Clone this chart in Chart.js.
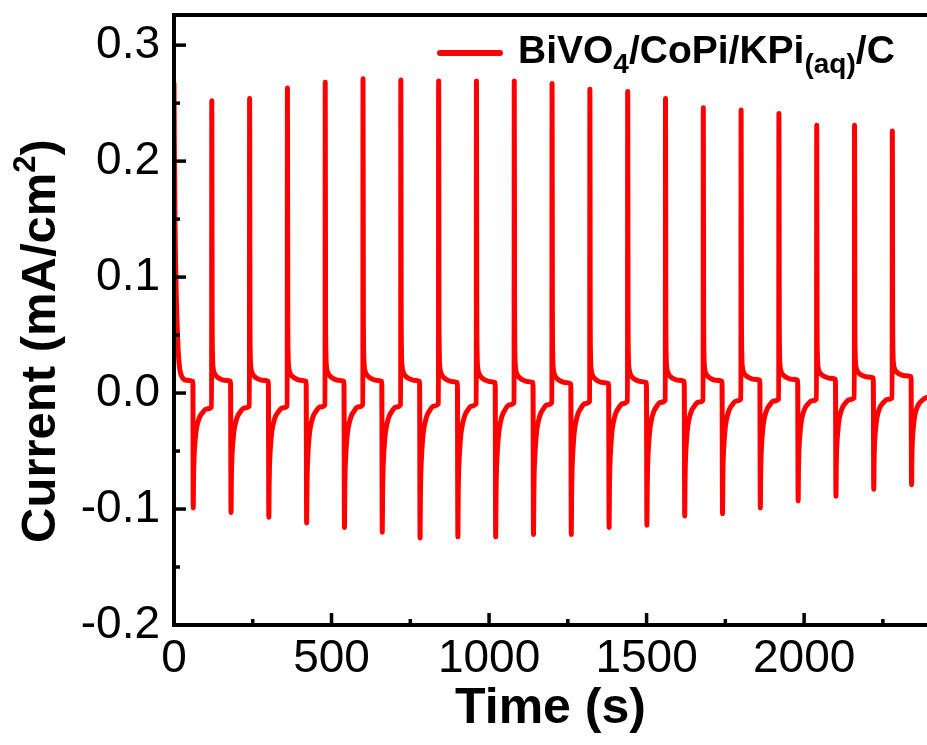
<!DOCTYPE html>
<html>
<head>
<meta charset="utf-8">
<script src="https://cdn.jsdelivr.net/npm/chart.js@4.4.1/dist/chart.umd.min.js"></script>
<style>
  html, body { margin: 0; padding: 0; background: #fff; overflow: hidden; }
  #wrap { position: relative; width: 927px; height: 745px; overflow: hidden; }
  #legend {
    position: absolute; left: 437px; top: 30px;
    font-family: 'Liberation Sans', Arial, sans-serif; font-weight: bold;
    font-size: 39px; line-height: 39px; white-space: nowrap; color: #000;
  }
  #legend .swatch { position: absolute; left: 0; top: 20px; width: 66px; height: 6px; border-radius: 3px; background: #ff0000; }
  #legend .label { position: absolute; left: 81px; top: 0; }
  #legend sub { font-size: 28px; vertical-align: -10px; line-height: 0; }
</style>
</head>
<body>
<div id="wrap">
  <canvas id="chart"></canvas>
  <div id="legend"><span class="swatch"></span><span class="label">BiVO<sub>4</sub>/CoPi/KPi<sub>(aq)</sub>/C</span></div>
</div>
<script>
// light switched on / off (s)
const onTimes  = [0, 120, 240, 360, 480, 600, 720, 840, 960, 1080, 1200, 1320, 1440, 1560, 1680, 1800, 1920, 2040, 2160, 2280];
const offTimes = [61, 181, 301, 421, 541, 661, 781, 901, 1021, 1141, 1261, 1381, 1501, 1621, 1741, 1861, 1981, 2101, 2221, 2341];

// current (mA/cm2)
const peakOn     = [0.267, 0.252, 0.254, 0.263, 0.268, 0.271, 0.270, 0.269, 0.269, 0.269, 0.267, 0.262, 0.260, 0.254, 0.246, 0.244, 0.241, 0.231, 0.231, 0.226];
const plateauOn  = [0.010, 0.010, 0.010, 0.010, 0.010, 0.010, 0.010, 0.009, 0.009, 0.009, 0.008, 0.008, 0.009, 0.010, 0.010, 0.011, 0.011, 0.012, 0.013, 0.014];
const troughOff  = [-0.099, -0.103, -0.107, -0.112, -0.116, -0.120, -0.125, -0.124, -0.124, -0.122, -0.122, -0.116, -0.114, -0.106, -0.104, -0.099, -0.093, -0.089, -0.083, -0.079];
const plateauOff = [-0.012, -0.011, -0.011, -0.010, -0.010, -0.010, -0.009, -0.009, -0.008, -0.008, -0.007, -0.007, -0.006, -0.006, -0.005, -0.005, -0.005, -0.004, -0.004, -0.003];

// transient shapes: seconds after switching / share of the spike left
const firstDt   = [0, 1, 3, 5, 8, 11, 16, 25, 40, 60];
const firstFrac = [1, 0.817, 0.545, 0.397, 0.253, 0.156, 0.062, 0.016, 0.004, 0];
const onDt      = [0, 1, 2, 4, 8, 15, 25, 40, 59.5];
const onFrac    = [1, 0.25, 0.1, 0.05, 0.03, 0.018, 0.01, 0.004, 0];
const offDt     = [0, 1, 2, 4, 7, 10, 15, 22, 30, 42, 58.5];
const offFrac   = [1, 0.7, 0.55, 0.42, 0.3, 0.22, 0.15, 0.09, 0.055, 0.02, 0];

// axes
const xTicks = [0, 500, 1000, 1500, 2000];
const xMinor = [250, 750, 1250, 1750, 2250];
const yTicks = [-0.2, -0.1, 0.0, 0.1, 0.2, 0.3];
const yMinor = [-0.15, -0.05, 0.05, 0.15, 0.25];
const yTitle = ['Current (mA/cm', '2', ')'];
const xTitle = 'Time (s)';

const FONT = "'Liberation Sans', Arial, sans-serif";

// build the trace from the cycle values
const points = [];
onTimes.forEach((tOn, k) => {
    const dts = k === 0 ? firstDt : onDt;
    const fr = k === 0 ? firstFrac : onFrac;
    dts.forEach((dt, i) => {
        points.push({ x: tOn + dt, y: plateauOn[k] + (peakOn[k] - plateauOn[k]) * fr[i] });
    });
    offDt.forEach((dt, i) => {
        points.push({ x: offTimes[k] + dt, y: plateauOff[k] + (troughOff[k] - plateauOff[k]) * offFrac[i] });
    });
});

// inward ticks, top frame line and the y title (with a real superscript)
const frame = {
    id: 'frame',
    afterDraw(chart) {
        const { ctx, chartArea: a, scales: { x, y } } = chart;
        ctx.save();
        ctx.strokeStyle = '#000';
        ctx.lineWidth = 4;
        ctx.beginPath();
        ctx.moveTo(a.left - 2, a.top);
        ctx.lineTo(a.right, a.top);
        ctx.stroke();

        ctx.lineWidth = 3.5;
        const seg = (x1, y1, x2, y2) => { ctx.beginPath(); ctx.moveTo(x1, y1); ctx.lineTo(x2, y2); ctx.stroke(); };
        xTicks.forEach(v => { const p = x.getPixelForValue(v); seg(p, a.bottom, p, a.bottom - 12); });
        xMinor.forEach(v => { const p = x.getPixelForValue(v); seg(p, a.bottom, p, a.bottom - 6); });
        yTicks.forEach(v => { const p = y.getPixelForValue(v); seg(a.left, p, a.left + 12, p); });
        yMinor.forEach(v => { const p = y.getPixelForValue(v); seg(a.left, p, a.left + 6, p); });

        ctx.fillStyle = '#000';
        ctx.translate(55, 341);
        ctx.rotate(-Math.PI / 2);
        ctx.textAlign = 'left';
        ctx.textBaseline = 'alphabetic';
        const big = 'bold 49px ' + FONT, small = 'bold 31px ' + FONT;
        ctx.font = big;
        const w1 = ctx.measureText(yTitle[0]).width, w3 = ctx.measureText(yTitle[2]).width;
        ctx.font = small;
        const w2 = ctx.measureText(yTitle[1]).width;
        let cx = -(w1 + w2 + w3) / 2;
        ctx.font = big;
        ctx.fillText(yTitle[0], cx, 0);
        cx += w1;
        ctx.font = small;
        ctx.fillText(yTitle[1], cx, -20);
        cx += w2;
        ctx.font = big;
        ctx.fillText(yTitle[2], cx, 0);
        ctx.restore();
    }
};

new Chart(document.getElementById('chart'), {
    type: 'line',
    data: {
        datasets: [{
            label: 'BiVO4/CoPi/KPi(aq)/C',
            data: points,
            borderColor: '#ff0000',
            borderWidth: 5,
            pointRadius: 0,
            cubicInterpolationMode: 'monotone',
            borderJoinStyle: 'round',
            borderCapStyle: 'round',
            fill: false
        }]
    },
    options: {
        responsive: true,
        maintainAspectRatio: false,
        animation: false,
        layout: { padding: { top: 15, left: 0, right: 0, bottom: 0 } },
        plugins: { legend: { display: false }, tooltip: { enabled: false } },
        scales: {
            x: {
                type: 'linear',
                min: 0,
                max: 2390,
                grid: { display: false, drawTicks: false },
                border: { display: true, color: '#000', width: 4, z: 1 },
                ticks: { font: { family: FONT, size: 46 }, color: '#000', padding: 7, maxRotation: 0, autoSkip: false, callback: v => String(v) },
                title: { display: true, text: xTitle, color: '#000', font: { family: FONT, size: 50, weight: 'bold' }, padding: { top: 0, bottom: 6 } },
                afterBuildTicks: s => { s.ticks = xTicks.map(v => ({ value: v })); },
                afterFit: s => { s.height = 120; s.paddingLeft = 0; s.paddingRight = 0; }
            },
            y: {
                min: -0.2,
                max: 0.326,
                grid: { display: false, drawTicks: false },
                border: { display: true, color: '#000', width: 4, z: 1 },
                ticks: { font: { family: FONT, size: 46 }, color: '#000', padding: 14, callback: v => v.toFixed(1) },
                afterBuildTicks: s => { s.ticks = yTicks.map(v => ({ value: v })); },
                afterFit: s => { s.width = 174; s.paddingTop = 0; s.paddingBottom = 0; }
            }
        }
    },
    plugins: [frame]
});
</script>
</body>
</html>
